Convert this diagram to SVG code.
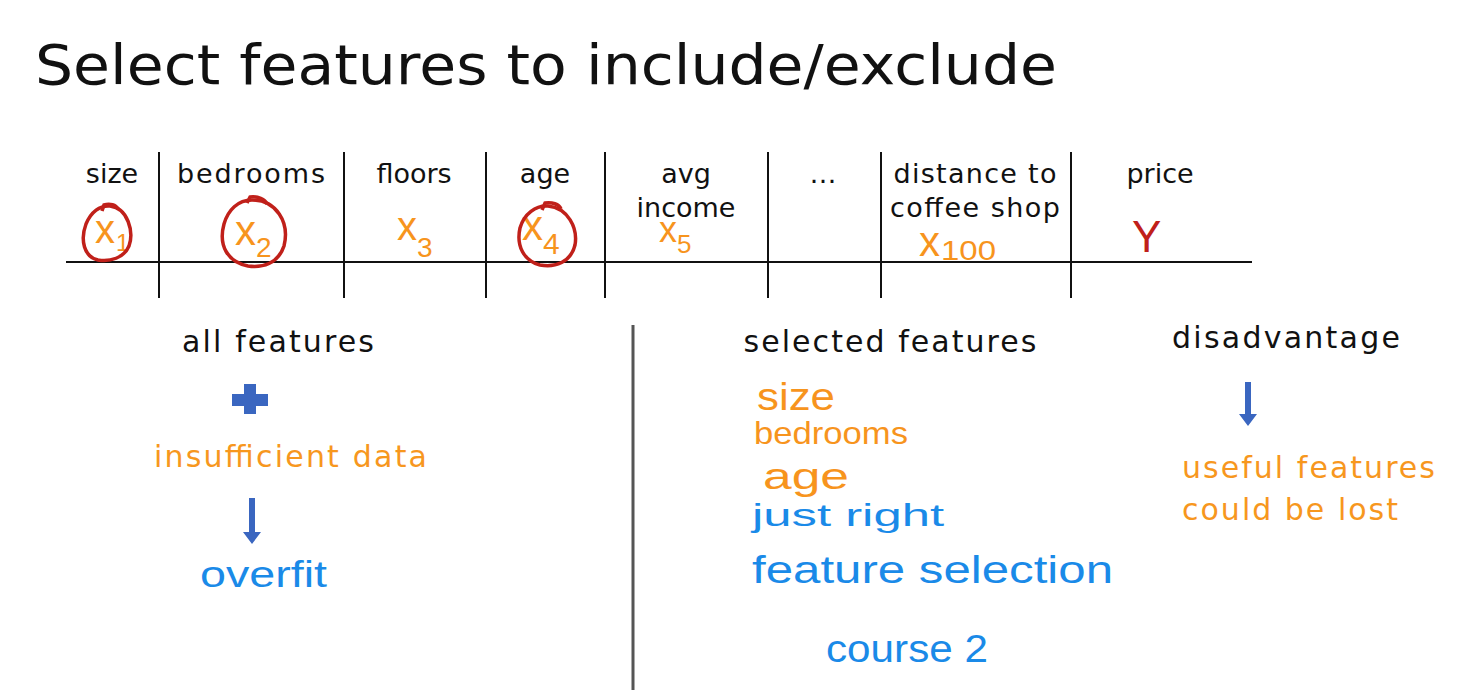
<svg xmlns="http://www.w3.org/2000/svg" width="1462" height="696" viewBox="0 0 1462 696">
<style>
.t{font-family:"DejaVu Sans","Liberation Sans",sans-serif;fill:#111}
.h{font-family:"DejaVu Sans","Liberation Sans",sans-serif;font-size:27px;fill:#111;text-anchor:middle}
.o{font-family:"DejaVu Sans","Liberation Sans",sans-serif;fill:#f7971e}
.hw{font-family:"Liberation Sans","DejaVu Sans",sans-serif}
.ho{fill:#f7941d}
.hb{fill:#1a8ae8}
.line{stroke:#111;stroke-width:2;fill:none}
.circ{stroke:#c0201a;stroke-width:3.5;fill:none}
.blue{fill:#3a66c0}
</style>
<rect width="1462" height="696" fill="#fff"/>
<g id="title"><text class="t" x="35" y="84" font-size="55" textLength="1022" lengthAdjust="spacingAndGlyphs">Select features to include/exclude</text></g>
<g id="table">
<line class="line" x1="66" y1="262" x2="1252" y2="262"/>
<line class="line" x1="159" y1="152" x2="159" y2="298"/>
<line class="line" x1="344" y1="152" x2="344" y2="298"/>
<line class="line" x1="486" y1="152" x2="486" y2="298"/>
<line class="line" x1="605" y1="152" x2="605" y2="298"/>
<line class="line" x1="768" y1="152" x2="768" y2="298"/>
<line class="line" x1="881" y1="152" x2="881" y2="298"/>
<line class="line" x1="1071" y1="152" x2="1071" y2="298"/>
<text class="h" x="112" y="183">size</text>
<text class="h" x="251" y="183" textLength="148">bedrooms</text>
<text class="h" x="414" y="183">floors</text>
<text class="h" x="545" y="183">age</text>
<text class="h" x="686" y="183">avg</text>
<text class="h" x="686" y="217">income</text>
<text class="h" x="823" y="183">…</text>
<text class="h" x="975" y="183" textLength="163">distance to</text>
<text class="h" x="975" y="217" textLength="170">coffee shop</text>
<text class="h" x="1160" y="183">price</text>
</g>
<g id="variables" class="hw">
<text class="ho" x="95" y="243" font-size="40">x<tspan font-size="24" dx="1" dy="8">1</tspan></text>
<text class="ho" x="235" y="245" font-size="42">x<tspan font-size="28" dx="0" dy="12">2</tspan></text>
<text class="ho" x="397" y="240" font-size="40">x<tspan font-size="28" dy="17">3</tspan></text>
<text class="ho" x="522" y="240" font-size="42">x<tspan font-size="30" dy="14">4</tspan></text>
<text class="ho" x="659" y="242" font-size="36">x<tspan font-size="26" dy="11">5</tspan></text>
<text class="ho" x="919" y="256" font-size="42">x<tspan font-size="28" dx="1" dy="4" textLength="55" lengthAdjust="spacingAndGlyphs">100</tspan></text>
<text x="1132" y="252" font-size="44" fill="#c0201a" class="hw">Y</text>
</g>
<g id="circles">
<path class="circ" d="M110,206 C128,208 134,232 129,246 C124,258 110,262 98,260 C84,257 80,240 86,224 C91,212 100,205 110,206 Z"/>
<path class="circ" d="M102,211 L104,205 C110,203 116,205 118,209"/>
<path class="circ" d="M252,200 C276,200 290,222 284,246 C278,264 262,268 248,266 C228,262 218,246 224,224 C228,210 238,200 252,200 Z"/>
<path class="circ" d="M247,203 L250,197 C258,196 265,199 267,204"/>
<path class="circ" d="M548,206 C568,208 578,228 575,245 C571,262 555,268 540,265 C524,261 516,246 520,228 C524,214 536,205 548,206 Z"/>
<path class="circ" d="M542,210 L545,203 C552,202 559,204 561,209"/>
</g>
<g id="left">
<text class="t" x="278" y="352" font-size="30" text-anchor="middle" textLength="192">all features</text>
<path class="blue" d="M232,394 H244 V384 H256 V394 H268 V406 H256 V414 H244 V406 H232 Z"/>
<text class="o" x="154" y="467" font-size="30" textLength="273">insufficient data</text>
<text class="hw hb" x="200" y="587" font-size="36" textLength="127" lengthAdjust="spacingAndGlyphs">overfit</text>
</g>
<g id="divider"><line x1="633" y1="325" x2="633" y2="690" stroke="#555" stroke-width="3"/></g>
<g id="middle">
<text class="t" x="890" y="352" font-size="30" text-anchor="middle" textLength="293">selected features</text>
<text class="hw ho" x="757" y="410" font-size="38" textLength="78" lengthAdjust="spacingAndGlyphs">size</text>
<text class="hw ho" x="754" y="444" font-size="32" textLength="154" lengthAdjust="spacingAndGlyphs">bedrooms</text>
<text class="hw ho" x="763" y="489" font-size="36" textLength="86" lengthAdjust="spacingAndGlyphs">age</text>
<text class="hw hb" x="752" y="526" font-size="32" textLength="192" lengthAdjust="spacingAndGlyphs">just right</text>
<text class="hw hb" x="752" y="583" font-size="38" textLength="361" lengthAdjust="spacingAndGlyphs">feature selection</text>
<text class="hw hb" x="826" y="662" font-size="38" textLength="162" lengthAdjust="spacingAndGlyphs">course 2</text>
</g>
<g id="right">
<text class="t" x="1172" y="348" font-size="30" textLength="228">disadvantage</text>
<text class="o" x="1182" y="478" font-size="30" textLength="253">useful features</text>
<text class="o" x="1182" y="520" font-size="30" textLength="216">could be lost</text>
</g>
<g id="connectors">
<path class="blue" d="M249,498 H255 V532 H261 L252,544 L243,532 H249 Z"/>
<path class="blue" d="M1245,382 H1251 V414 H1257 L1248,426 L1239,414 H1245 Z"/>
</g>
</svg>
